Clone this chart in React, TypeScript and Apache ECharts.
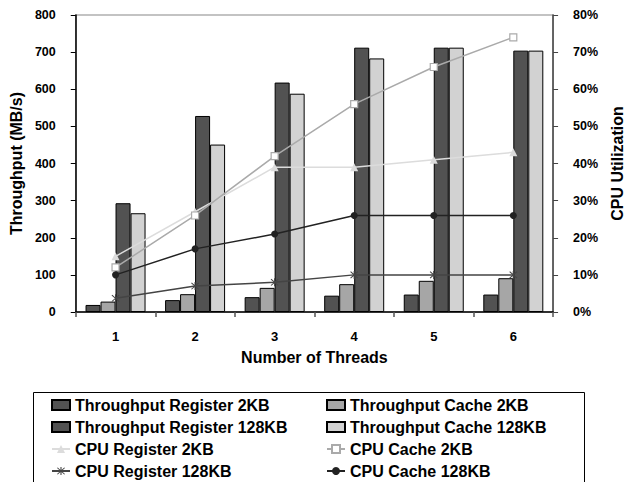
import React, { useEffect, useRef } from "react";
import * as echarts from "echarts";

const threads = ["1", "2", "3", "4", "5", "6"];

// Throughput in MB/s
const tpRegister2KB = [19, 32, 40, 44, 47, 47];
const tpCache2KB = [28, 48, 65, 75, 84, 91];
const tpRegister128KB = [293, 528, 618, 712, 712, 704];
const tpCache128KB = [266, 451, 588, 683, 712, 704];

// CPU utilization in percent
const cpuRegister2KB = [15, 27, 39, 39, 41, 43];
const cpuCache2KB = [12, 26, 42, 56, 66, 74];
const cpuRegister128KB = [3.7, 7, 8, 10, 10, 10];
const cpuCache128KB = [10, 17, 21, 26, 26, 26];

const FONT = "'Liberation Sans', Arial, sans-serif";
const ASTERISK =
  "path://M4.4 0 L5.6 0 L5.6 10 L4.4 10 Z M0.6 1.4 L1.4 0.6 L9.4 8.6 L8.6 9.4 Z M8.6 0.6 L9.4 1.4 L1.4 9.4 L0.6 8.6 Z";

export default function App() {
  const ref = useRef<HTMLDivElement>(null);

  useEffect(() => {
    if (!ref.current) return;
    const chart = echarts.init(ref.current, undefined, { renderer: "svg" });

    const barStyle = (color: string) => ({
      color,
      borderColor: "#000",
      borderWidth: 1,
    });

    const textBase = { fontFamily: FONT, fontWeight: "bold" as const, color: "#000" };

    const legendBase = {
      orient: "vertical" as const,
      top: 397,
      padding: 0,
      itemWidth: 18,
      itemHeight: 10,
      itemGap: 6,
      textStyle: { ...textBase, fontSize: 16, lineHeight: 16 },
    };

    chart.setOption({
      animation: false,
      backgroundColor: "#fff",
      textStyle: { fontFamily: FONT },
      grid: {
        left: 72,
        right: 67,
        top: 15,
        bottom: 170,
        show: true,
        borderColor: "#b0b0b0",
        borderWidth: 1.5,
        backgroundColor: "transparent",
      },
      legend: [
        {
          ...legendBase,
          left: 51,
          data: [
            { name: "Throughput Register 2KB", icon: "rect" },
            { name: "Throughput Register 128KB", icon: "rect" },
            "CPU Register 2KB",
            "CPU Register 128KB",
          ],
        },
        {
          ...legendBase,
          left: 326,
          data: [
            { name: "Throughput Cache 2KB", icon: "rect" },
            { name: "Throughput Cache 128KB", icon: "rect" },
            "CPU Cache 2KB",
            "CPU Cache 128KB",
          ],
        },
      ],
      graphic: [
        {
          type: "rect",
          shape: { x: 33.5, y: 392.5, width: 551, height: 100 },
          style: { fill: "none", stroke: "#000", lineWidth: 1 },
          silent: true,
        },
      ],
      xAxis: {
        type: "category",
        data: threads,
        boundaryGap: true,
        axisLine: { lineStyle: { color: "#000", width: 1.5 } },
        axisTick: { show: true, length: 5, lineStyle: { color: "#555", width: 1.5 } },
        axisLabel: { ...textBase, fontSize: 13, margin: 18 },
        name: "Number of Threads",
        nameLocation: "middle",
        nameGap: 37,
        nameTextStyle: { ...textBase, fontSize: 16 },
      },
      yAxis: [
        {
          type: "value",
          min: 0,
          max: 800,
          interval: 100,
          splitLine: { show: false },
          axisLine: { show: true, lineStyle: { color: "#000", width: 1.5 } },
          axisTick: { show: true, length: 5, lineStyle: { color: "#000" } },
          axisLabel: { ...textBase, fontSize: 12.5, margin: 20 },
          name: "Throughput (MB/s)",
          nameLocation: "middle",
          nameGap: 47,
          nameRotate: 90,
          nameTextStyle: { ...textBase, fontSize: 16 },
        },
        {
          type: "value",
          min: 0,
          max: 80,
          interval: 10,
          position: "right",
          splitLine: { show: false },
          axisLine: { show: true, lineStyle: { color: "#444", width: 1.5 } },
          axisTick: { show: true, length: 5, lineStyle: { color: "#444" } },
          axisLabel: { ...textBase, fontSize: 12.5, margin: 20, formatter: "{value}%" },
          name: "CPU Utilization",
          nameLocation: "middle",
          nameGap: 55,
          nameRotate: 90,
          nameTextStyle: { ...textBase, fontSize: 16 },
        },
      ],
      series: [
        {
          name: "Throughput Register 2KB",
          type: "bar",
          data: tpRegister2KB,
          barWidth: 15,
          barGap: "0%",
          itemStyle: barStyle("#525252"),
        },
        {
          name: "Throughput Cache 2KB",
          type: "bar",
          data: tpCache2KB,
          barWidth: 15,
          barGap: "0%",
          itemStyle: barStyle("#a6a6a6"),
        },
        {
          name: "Throughput Register 128KB",
          type: "bar",
          data: tpRegister128KB,
          barWidth: 15,
          barGap: "0%",
          itemStyle: barStyle("#525252"),
        },
        {
          name: "Throughput Cache 128KB",
          type: "bar",
          data: tpCache128KB,
          barWidth: 15,
          barGap: "0%",
          itemStyle: barStyle("#d2d2d2"),
        },
        {
          name: "CPU Register 2KB",
          type: "line",
          yAxisIndex: 1,
          data: cpuRegister2KB,
          symbol: "triangle",
          symbolSize: 8,
          lineStyle: { color: "#dcdcdc", width: 1.5 },
          itemStyle: { color: "#dcdcdc" },
        },
        {
          name: "CPU Cache 2KB",
          type: "line",
          yAxisIndex: 1,
          data: cpuCache2KB,
          symbol: "rect",
          symbolSize: 7,
          lineStyle: { color: "#aaaaaa", width: 1.5 },
          itemStyle: { color: "#fff", borderColor: "#aaaaaa", borderWidth: 1.2 },
        },
        {
          name: "CPU Register 128KB",
          type: "line",
          yAxisIndex: 1,
          data: cpuRegister128KB,
          symbol: ASTERISK,
          symbolSize: 8,
          lineStyle: { color: "#444", width: 1.5 },
          itemStyle: { color: "#444" },
        },
        {
          name: "CPU Cache 128KB",
          type: "line",
          yAxisIndex: 1,
          data: cpuCache128KB,
          symbol: "circle",
          symbolSize: 7,
          lineStyle: { color: "#222", width: 1.5 },
          itemStyle: { color: "#222" },
        },
      ],
    });

    return () => chart.dispose();
  }, []);

  return (
    <div
      ref={ref}
      style={{ width: 633, height: 482, position: "absolute", left: 0, top: 0 }}
    />
  );
}
